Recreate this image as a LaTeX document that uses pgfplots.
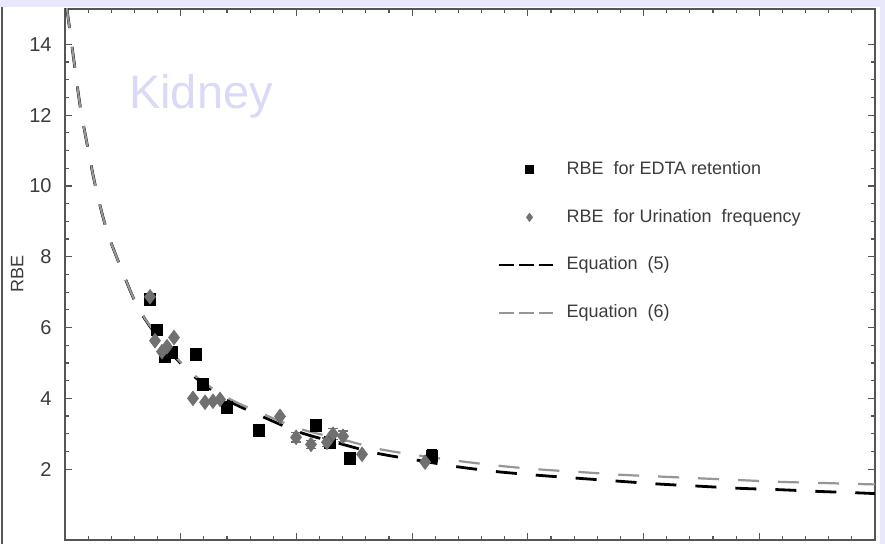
\documentclass[border=0pt]{standalone}
\usepackage{fontspec}
\setmainfont{Liberation Sans}
\usepackage{pgfplots}
\pgfplotsset{compat=1.18}
\definecolor{lav}{RGB}{232,232,250}
\definecolor{kid}{RGB}{218,218,248}
\definecolor{framec}{RGB}{85,85,85}
\definecolor{ptgray}{RGB}{112,112,112}
\definecolor{lngray}{RGB}{150,150,150}
\definecolor{txt}{RGB}{60,60,60}
\pgfplotsset{
  lineleg/.style={legend image code/.code={\draw[##1, dash pattern=on 7.5pt off 2.5pt] (0pt,0pt) -- (27pt,0pt); \path[draw=none,fill=none] (0pt,0pt) -- (33pt,0pt);}},
  markleg/.style={legend image code/.code={\path[##1, draw=none, mark size=2pt] plot coordinates {(15.5pt,0pt)}; \path[draw=none,fill=none] (0pt,0pt) -- (33pt,0pt);}},
}
\begin{document}
\begin{tikzpicture}
\useasboundingbox (-32.5pt,-2pt) rectangle (410pt,270pt);
\fill[lav] (-32.5pt,-2pt) rectangle (410pt,270pt);
\fill[white] (-32.5pt,-2pt) rectangle (407.5pt,266.5pt);
\draw[framec, line width=0.6pt] (-31.5pt,-2pt) -- (-31.5pt,266.5pt);
\begin{axis}[
  at={(0pt,0pt)}, anchor=south west, scale only axis,
  width=405pt, height=265.5pt,
  xmin=0, xmax=7, ymin=0, ymax=15,
  xtick={0,1,...,7}, minor x tick num=4, xticklabels={},
  ytick={2,4,...,14}, minor y tick num=3,
  tick align=inside, major tick length=3.5pt, minor tick length=2pt,
  axis line style={framec, line width=0.7pt},
  every tick/.style={framec, line width=0.6pt},
  /pgf/number format/assume math mode=true,
  yticklabel style={font=\fontsize{10}{12}\selectfont, text=txt, xshift=-3.2pt},
  ylabel={RBE},
  every axis y label/.style={at={(axis description cs:-0.059,0.5)}, rotate=90, anchor=center, font=\fontsize{9}{10}\selectfont, text=txt},
  legend style={at={(rel axis cs:0.533,0.717)}, anchor=north west, draw=none, fill=none,
     font=\fontsize{9}{11}\selectfont, text=txt, row sep=13.8pt, inner sep=0pt,
     nodes={inner sep=1pt, anchor=west}},
  legend cell align=left,
  clip=true,
]
% RBE for EDTA retention
\addplot[only marks, mark=square*, mark size=2.9pt, black, markleg,
  error bars/.cd, y dir=both, y explicit, error mark options={rotate=90, mark size=2.5pt, black, line width=0.6pt},
  error bar style={black, line width=0.6pt}]
  table[x=x, y=y, y error=e] {
  x y e
  0.735 6.79 0
  0.795 5.94 0
  0.864 5.18 0
  0.925 5.30 0
  1.132 5.24 0
  1.193 4.39 0
  1.400 3.75 0
  1.677 3.10 0
  2.169 3.24 0
  2.290 2.76 0
  2.463 2.31 0
  3.172 2.37 0.17
  };
% RBE for Urination frequency
\addplot[only marks, mark=diamond*, mark size=3.6pt, ptgray, mark options={draw=ptgray, fill=ptgray}, markleg,
  error bars/.cd, y dir=both, y explicit, error mark options={rotate=90, mark size=2.5pt, ptgray, line width=0.6pt},
  error bar style={ptgray, line width=0.6pt}]
  table[x=x, y=y, y error=e] {
  x y e
  0.735 6.87 0
  0.778 5.63 0
  0.942 5.72 0
  0.838 5.32 0
  0.882 5.46 0
  1.106 4.00 0
  1.210 3.89 0
  1.279 3.92 0
  1.340 3.97 0
  1.858 3.49 0
  1.997 2.90 0.13
  2.126 2.70 0.12
  2.264 2.76 0.12
  2.316 2.99 0.16
  2.403 2.93 0.15
  2.567 2.42 0
  3.112 2.20 0
  };
% Equation (5)
\addplot[black, line width=1.4pt, dash pattern=on 10.5pt off 9.5pt, smooth, tension=0.5, lineleg]
  coordinates {
  (0.015,15.05) (0.03,14.68) (0.078,13.52) (0.13,12.28) (0.194,11.13) (0.268,9.92)
  (0.363,8.73) (0.493,7.61) (0.64,6.51) (0.847,5.55) (1.106,4.65) (1.392,3.97)
  (1.703,3.49) (2.031,3.04) (2.368,2.73) (2.697,2.45) (3.051,2.25) (3.388,2.07)
  (3.734,1.93) (4.08,1.83) (4.408,1.75) (4.788,1.66) (5.134,1.58) (5.48,1.52)
  (5.825,1.46) (6.18,1.42) (6.526,1.37) (6.863,1.33) (7.0,1.31)};
% Equation (6)
\addplot[lngray, line width=1.1pt, dash pattern=on 10.5pt off 9.5pt, smooth, tension=0.5, lineleg]
  coordinates {
  (0.015,15.05) (0.03,14.68) (0.078,13.52) (0.13,12.28) (0.194,11.13) (0.268,9.92)
  (0.363,8.73) (0.493,7.61) (0.64,6.52) (0.847,5.57) (1.106,4.69) (1.392,4.04)
  (1.703,3.57) (2.04,3.13) (2.385,2.85) (2.714,2.57) (3.051,2.39) (3.405,2.23)
  (3.768,2.09) (4.114,1.99) (4.494,1.91) (4.814,1.84) (5.151,1.79) (5.497,1.74)
  (5.843,1.69) (6.197,1.64) (6.551,1.61) (6.871,1.58) (7.0,1.57)};
\legend{RBE\ \ for EDTA retention, RBE\ \ for Urination\ \ frequency, Equation\ \ (5), Equation\ \ (6)}
\node[text=kid, font=\fontsize{23.5}{26}\selectfont] at (axis cs:1.175,12.54) {Kidney};
\end{axis}
\end{tikzpicture}
\end{document}
